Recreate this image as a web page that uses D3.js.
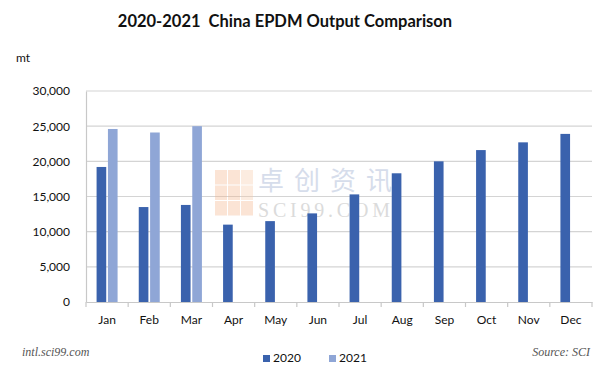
<!DOCTYPE html>
<html>
<head>
<meta charset="utf-8">
<script src="https://cdn.jsdelivr.net/npm/d3@7"></script>
<style>
body { margin: 0; background: #fff; }
svg { display: block; font-family: Lato, "Open Sans", sans-serif; }
</style>
</head>
<body>
<svg id="chart" width="604" height="375"></svg>
<script>
var months = ["Jan", "Feb", "Mar", "Apr", "May", "Jun", "Jul", "Aug", "Sep", "Oct", "Nov", "Dec"];
var seriesNames = ["2020", "2021"];
var output2020 = [19200, 13500, 13800, 11000, 11500, 12600, 15300, 18300, 20000, 21600, 22700, 23900];
var output2021 = [24600, 24100, 25000, null, null, null, null, null, null, null, null, null];
var yTicks = [0, 5000, 10000, 15000, 20000, 25000, 30000];
var colors = ["#3a62ad", "#8fa6d6"];

var svg = d3.select("#chart");
var margin = { top: 91, right: 12, bottom: 73, left: 86 };
var width = 604 - margin.left - margin.right;
var height = 375 - margin.top - margin.bottom;

var g = svg.append("g")
    .attr("transform", "translate(" + margin.left + "," + margin.top + ")");

var x = d3.scaleBand().domain(months).range([0, width]);
var x1 = d3.scaleBand().domain(seriesNames).range([x.bandwidth() / 2 - 10.5, x.bandwidth() / 2 + 10.5]).paddingInner(0.15);
var y = d3.scaleLinear().domain([0, 30000]).range([height, 0]);

// title and unit
svg.append("text")
    .attr("x", 285).attr("y", 27)
    .attr("text-anchor", "middle")
    .attr("font-size", 16.5).attr("font-weight", "bold")
    .attr("fill", "#111")
    .style("white-space", "pre")
    .text("2020-2021  China EPDM Output Comparison");
svg.append("text")
    .attr("x", 16).attr("y", 62)
    .attr("font-size", 12).attr("fill", "#111")
    .text("mt");

// grid
g.append("g")
    .selectAll("line")
    .data(yTicks.filter(function (d) { return d > 0; }))
    .enter().append("line")
    .attr("x1", 0).attr("x2", width)
    .attr("y1", function (d) { return y(d); })
    .attr("y2", function (d) { return y(d); })
    .attr("stroke", "#d4d4d4").attr("stroke-width", 1.2);

// watermark
var wm = g.append("g").attr("opacity", 0.35);
var cells = [[0, 0], [1, 0], [0, 1], [1, 1], [0, 2], [1, 2], [2, 2], [2, 0], [2, 1]];
wm.selectAll("rect")
    .data(cells)
    .enter().append("rect")
    .attr("x", function (d) { return 129 + d[0] * 13; })
    .attr("y", function (d) { return 79 + d[1] * 15.5; })
    .attr("width", 12).attr("height", 14.5)
    .attr("fill", function (d) { return d[0] === 2 && d[1] < 2 ? "#f7c9a8" : "#f4b48a"; });
wm.append("text")
    .attr("x", 172).attr("y", 99)
    .attr("font-family", "'Noto Sans CJK SC', sans-serif")
    .attr("font-size", 26)
    .attr("textLength", 134).attr("lengthAdjust", "spacing")
    .attr("fill", "#8ca0c8")
    .text("卓创资讯");
wm.append("text")
    .attr("x", 172).attr("y", 126)
    .attr("font-family", "'Liberation Serif', serif")
    .attr("font-size", 20)
    .attr("textLength", 132).attr("lengthAdjust", "spacing")
    .attr("fill", "#999")
    .text("SCI99.COM");

// y axis
var yAxis = g.append("g")
    .call(d3.axisLeft(y).tickValues(yTicks).tickSize(0).tickPadding(16).tickFormat(d3.format(",")));
yAxis.select(".domain").attr("stroke", "#c8c8c8").attr("stroke-width", 1.2);
yAxis.selectAll("text").attr("font-size", 12).attr("fill", "#111").attr("font-family", "Lato, sans-serif");

// x axis
var xAxis = g.append("g")
    .attr("transform", "translate(0," + height + ")")
    .call(d3.axisBottom(x).tickSize(0).tickPadding(13));
xAxis.select(".domain").attr("stroke", "#c8c8c8").attr("stroke-width", 1.2);
xAxis.selectAll("text").attr("font-size", 12).attr("fill", "#111").attr("font-family", "Lato, sans-serif");
xAxis.selectAll(".sep")
    .data(months.concat(["end"]))
    .enter().append("line")
    .attr("class", "sep")
    .attr("x1", function (d, i) { return i * x.step(); })
    .attr("x2", function (d, i) { return i * x.step(); })
    .attr("y1", 0).attr("y2", 5)
    .attr("stroke", "#c8c8c8").attr("stroke-width", 1.2);

// bars
var rows = months.map(function (m, i) {
    return { month: m, values: [
        { key: "2020", value: output2020[i] },
        { key: "2021", value: output2021[i] }
    ] };
});
g.append("g")
    .selectAll("g")
    .data(rows)
    .enter().append("g")
    .attr("transform", function (d) { return "translate(" + x(d.month) + ",0)"; })
    .selectAll("rect")
    .data(function (d) { return d.values.filter(function (v) { return v.value != null; }); })
    .enter().append("rect")
    .attr("x", function (d) { return x1(d.key); })
    .attr("width", x1.bandwidth())
    .attr("y", function (d) { return y(d.value); })
    .attr("height", function (d) { return height - y(d.value); })
    .attr("fill", function (d) { return colors[seriesNames.indexOf(d.key)]; });

// footer
svg.append("text")
    .attr("x", 22).attr("y", 356)
    .attr("font-family", "'Liberation Serif', serif")
    .attr("font-style", "italic").attr("font-size", 12)
    .attr("fill", "#555")
    .text("intl.sci99.com");
svg.append("text")
    .attr("x", 590).attr("y", 356)
    .attr("text-anchor", "end")
    .attr("font-family", "'Liberation Serif', serif")
    .attr("font-style", "italic").attr("font-size", 12)
    .attr("fill", "#555")
    .text("Source: SCI");

// legend
var legend = svg.append("g")
    .selectAll("g")
    .data(seriesNames)
    .enter().append("g")
    .attr("transform", function (d, i) { return "translate(" + (263 + i * 66) + ",362)"; });
legend.append("rect")
    .attr("x", 0).attr("y", -7)
    .attr("width", 7).attr("height", 7)
    .attr("fill", function (d, i) { return colors[i]; });
legend.append("text")
    .attr("x", 10).attr("y", 0)
    .attr("font-size", 12).attr("fill", "#111")
    .text(function (d) { return d; });
</script>
</body>
</html>
